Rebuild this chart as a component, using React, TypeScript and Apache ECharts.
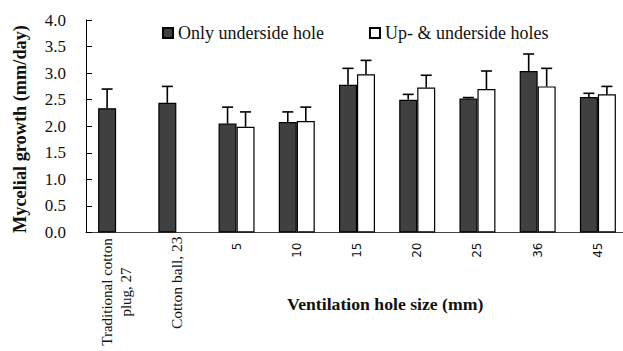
import React, { useEffect, useRef } from "react";
import * as echarts from "echarts";

const categories = ["Traditional cotton plug, 27", "Cotton ball, 23", "5", "10", "15", "20", "25", "36", "45"];
const seriesNames = ["Only underside hole", "Up- & underside holes"];
const onlyUnderside = [2.34, 2.44, 2.05, 2.08, 2.78, 2.5, 2.52, 3.04, 2.55];
const onlyUndersideErr = [0.36, 0.31, 0.31, 0.19, 0.31, 0.1, 0.02, 0.32, 0.07];
const upAndUnderside = [null, null, 1.99, 2.1, 2.98, 2.73, 2.7, 2.75, 2.6];
const upAndUndersideErr = [null, null, 0.28, 0.26, 0.26, 0.23, 0.34, 0.34, 0.15];
const yTicks = [0, 0.5, 1, 1.5, 2, 2.5, 3, 3.5, 4];
const xTitle = "Ventilation hole size (mm)";
const yTitle = "Mycelial growth (mm/day)";

const SERIF = "Liberation Serif";
const SANS = "DejaVu Sans";
const BAR_W = 18;

function errData(vals: (number | null)[], errs: (number | null)[]) {
  const out: number[][] = [];
  vals.forEach((v, i) => {
    const e = errs[i];
    if (v != null && e != null) out.push([i, v, e]);
  });
  return out;
}

function errSeries(data: number[][], offset: number) {
  return {
    type: "custom",
    z: 5,
    silent: true,
    encode: { x: 0, y: 1 },
    data,
    renderItem: (params: any, api: any) => {
      const idx = api.value(0);
      const v = api.value(1);
      const e = api.value(2);
      const base = api.coord([idx, v]);
      const top = api.coord([idx, v + e]);
      const x = base[0] + offset;
      const style = { stroke: "#000", lineWidth: 1.6 };
      return {
        type: "group",
        children: [
          { type: "line", shape: { x1: x, y1: base[1], x2: x, y2: top[1] }, style },
          { type: "line", shape: { x1: x - 5.5, y1: top[1], x2: x + 5.5, y2: top[1] }, style },
        ],
      };
    },
  };
}

export default function App() {
  const ref = useRef<HTMLDivElement>(null);
  useEffect(() => {
    if (!ref.current) return;
    const chart = echarts.init(ref.current, null, { renderer: "svg" });
    chart.setOption({
      animation: false,
      backgroundColor: "#fff",
      grid: {
        left: 86,
        right: -5,
        top: 20,
        bottom: 118.5,
        containLabel: false,
        outerBoundsMode: "none",
      },
      legend: {
        data: seriesNames,
        left: 157,
        top: 19,
        icon: "rect",
        itemWidth: 10,
        itemHeight: 10,
        itemGap: 45,
        textStyle: { fontFamily: SERIF, fontSize: 18, color: "#111" },
      },
      xAxis: {
        type: "category",
        data: categories,
        axisLine: { lineStyle: { color: "#444", width: 1 } },
        axisTick: { show: false },
        axisLabel: {
          interval: 0,
          rotate: 90,
          margin: 4,
          fontFamily: SERIF,
          formatter: (val: string, i: number) => {
            if (i === 0) return "{w|Traditional cotton}\n{w|plug, 27}";
            if (i === 1) return "{s|" + val + "}";
            return "{n|" + val + "}";
          },
          rich: {
            w: { fontFamily: SERIF, fontSize: 15, color: "#111", width: 111, align: "center", lineHeight: 19 },
            s: { fontFamily: SERIF, fontSize: 15.5, color: "#111" },
            n: { fontFamily: SANS, fontSize: 12, color: "#111", padding: [0, 6, 0, 0] },
          },
        },
      },
      yAxis: {
        type: "value",
        min: 0,
        max: 4,
        interval: 0.5,
        splitLine: { show: false },
        axisLine: { show: true, lineStyle: { color: "#000", width: 1 } },
        axisTick: { show: true, inside: true, length: 6, lineStyle: { color: "#000" } },
        axisLabel: {
          margin: 20,
          fontFamily: SERIF,
          fontSize: 17,
          color: "#111",
          formatter: (v: number) => (yTicks.includes(v) ? v.toFixed(1) : ""),
        },
      },
      series: [
        {
          name: seriesNames[0],
          type: "bar",
          barWidth: BAR_W,
          barGap: "0%",
          data: onlyUnderside,
          itemStyle: { color: "#404040", borderColor: "#000", borderWidth: 1.2 },
        },
        {
          name: seriesNames[1],
          type: "bar",
          barWidth: BAR_W,
          barGap: "0%",
          data: upAndUnderside,
          itemStyle: { color: "#fff", borderColor: "#000", borderWidth: 1.2 },
        },
        errSeries(errData(onlyUnderside, onlyUndersideErr), -BAR_W / 2),
        errSeries(errData(upAndUnderside, upAndUndersideErr), BAR_W / 2),
      ],
      graphic: [
        {
          type: "text",
          left: 287,
          top: 295,
          style: { text: xTitle, fontFamily: SERIF, fontWeight: "bold", fontSize: 17.7, fill: "#111" },
        },
        {
          type: "text",
          x: 20,
          y: 129,
          rotation: Math.PI / 2,
          style: {
            text: yTitle,
            fontFamily: SERIF,
            fontWeight: "bold",
            fontSize: 18.3,
            fill: "#111",
            align: "center",
            verticalAlign: "middle",
          },
        },
      ],
    });
    return () => chart.dispose();
  }, []);
  return (
    <div
      ref={ref}
      style={{ position: "fixed", left: 0, top: 0, width: 623, height: 351, background: "#fff" }}
    />
  );
}
